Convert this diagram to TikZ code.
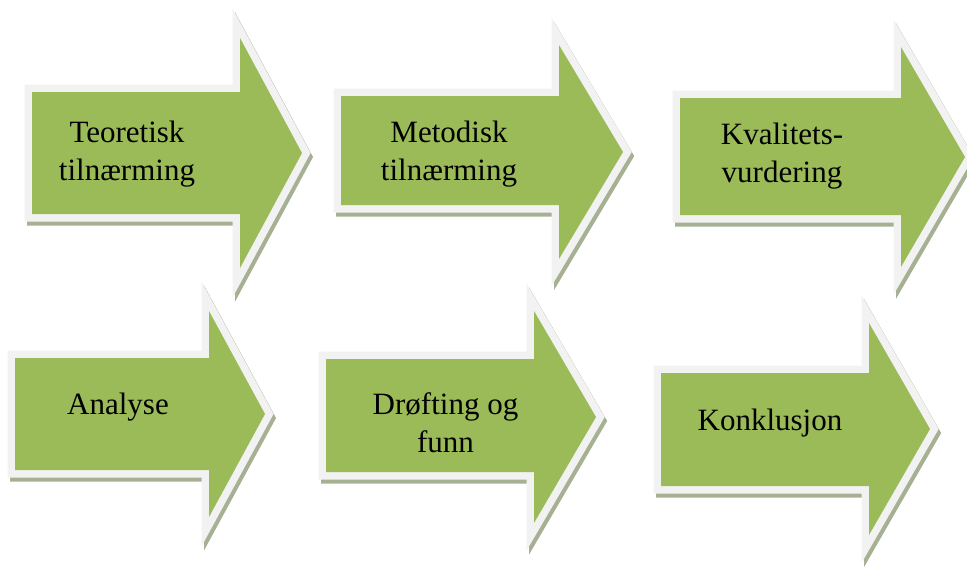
\documentclass[tikz,border=0pt]{standalone}
\usepackage{fontspec}
\setmainfont{Liberation Serif}
\definecolor{greenc}{HTML}{9BBB59}
\definecolor{rimc}{HTML}{F2F2F2}
\definecolor{shadowc}{HTML}{A6B093}
\tikzset{
  arrowshadow/.style={fill=shadowc, draw=shadowc, line width=15pt, line join=miter},
  arrowrim/.style={draw=rimc, line width=15pt, line join=miter},
  arrowfill/.style={fill=greenc},
  label/.style={align=center, anchor=base, inner sep=0pt, font=\fontsize{31}{38}\selectfont}
}
% #1 left x, #2 body top, #3 body bottom, #4 head x, #5 head top, #6 tip x, #7 tip y
\newcommand\flowarrow[7]{%
  \path[arrowshadow, shift={(2.5,4)}] (#1,#2) -- (#4,#2) -- (#4,#5) -- (#6,#7) -- (#4,{2*#7-#5}) -- (#4,#3) -- (#1,#3) -- cycle;
  \path[arrowrim] (#1,#2) -- (#4,#2) -- (#4,#5) -- (#6,#7) -- (#4,{2*#7-#5}) -- (#4,#3) -- (#1,#3) -- cycle;
  \path[arrowfill] (#1,#2) -- (#4,#2) -- (#4,#5) -- (#6,#7) -- (#4,{2*#7-#5}) -- (#4,#3) -- (#1,#3) -- cycle;
}
\begin{document}
\begin{tikzpicture}[x=1pt, y=-1pt]
\useasboundingbox (0,0) rectangle (967,566);
\flowarrow{32}{92}{214}{240}{38}{302}{153}
\flowarrow{341}{96}{205}{559}{45}{623}{152}
\flowarrow{680}{98}{215}{901}{47}{965}{157}
\flowarrow{15}{358}{470}{209}{311}{265}{414}
\flowarrow{326}{359}{472}{534}{311}{596}{417}
\flowarrow{661}{373}{486}{869}{323}{930}{429}
% base anchor of a multi-line node = baseline of its last line
\node[label] (t1) at (127,180) {Teoretisk\\tilnærming};
\node[label] (t2) at (449,180) {Metodisk\\tilnærming};
\node[label] (t3) at (782,182) {Kvalitets-\\vurdering};
\node[label] (t4) at (118,414) {Analyse};
\node[label] (t5) at (445.5,452) {Drøfting og\\funn};
\node[label] (t6) at (770,430) {Konklusjon};
\end{tikzpicture}
\end{document}
